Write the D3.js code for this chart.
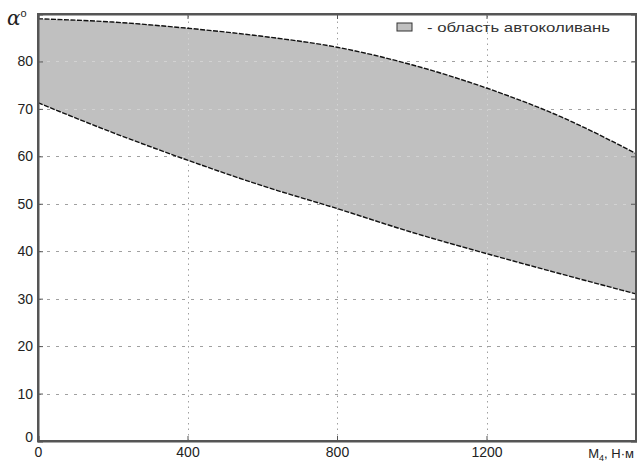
<!DOCTYPE html>
<html>
<head>
<meta charset="utf-8">
<script src="https://cdn.jsdelivr.net/npm/d3@7"></script>
<style>
  body { margin: 0; background: #fff; }
  text { font-family: "Liberation Sans", Arial, sans-serif; }
</style>
</head>
<body>
<script>
var width = 637,
    height = 462;

// torque M4 (N*m) and the two bounds of the self-oscillation zone (deg)
var torque = [0, 200, 400, 600, 800, 1000, 1200, 1400, 1600];
var upperAlpha = [89.0, 88.3, 87.0, 85.3, 83.0, 79.3, 74.4, 68.3, 60.6];
var lowerAlpha = [71.3, 65.0, 59.2, 53.8, 49.0, 44.0, 39.5, 35.2, 31.0];

var xTicks = [0, 400, 800, 1200];
var yTicks = [0, 10, 20, 30, 40, 50, 60, 70, 80];
var legendText = "- область автоколивань";

var margin = {left: 38, right: 1, top: 14, bottom: 21};

var svg = d3.select("body").append("svg")
    .attr("width", width)
    .attr("height", height);

var x = d3.scaleLinear().domain([0, 1600]).range([margin.left, width - margin.right]);
var y = d3.scaleLinear().domain([0, 90]).range([height - margin.bottom, margin.top]);

var pts = torque.map(function(t, i) {
  return {t: t, lo: lowerAlpha[i], hi: upperAlpha[i]};
});

var area = d3.area()
    .x(function(d) { return x(d.t); })
    .y0(function(d) { return y(d.lo); })
    .y1(function(d) { return y(d.hi); })
    .curve(d3.curveMonotoneX);

svg.append("clipPath").attr("id", "zone")
  .append("path").datum(pts).attr("d", area);

function drawGrid(g, color) {
  g.attr("stroke", color).attr("stroke-width", 1);
  g.selectAll("line.h")
      .data(yTicks.slice(1))
    .enter().append("line")
      .attr("stroke-dasharray", "3,6")
      .attr("x1", x(0)).attr("x2", x(1600))
      .attr("y1", function(d) { return Math.round(y(d)) + 0.5; })
      .attr("y2", function(d) { return Math.round(y(d)) + 0.5; });
  g.selectAll("line.v")
      .data(xTicks.slice(1))
    .enter().append("line")
      .attr("stroke-dasharray", "1.5,4")
      .attr("y1", y(0)).attr("y2", y(90))
      .attr("x1", function(d) { return Math.round(x(d)) + 0.5; })
      .attr("x2", function(d) { return Math.round(x(d)) + 0.5; });
}

// grid on white, zone, lighter grid inside the zone
drawGrid(svg.append("g"), "#a0a0a0");

svg.append("path")
    .datum(pts)
    .attr("d", area)
    .attr("fill", "#c0c0c0");

drawGrid(svg.append("g").attr("clip-path", "url(#zone)"), "#d2d2d2");

// bounds
["lo", "hi"].forEach(function(k) {
  var line = d3.line()
      .x(function(d) { return x(d.t); })
      .y(function(d) { return y(d[k]); })
      .curve(d3.curveMonotoneX);
  svg.append("path")
      .datum(pts)
      .attr("d", line)
      .attr("fill", "none")
      .attr("stroke", "#111")
      .attr("stroke-width", 1.4)
      .attr("stroke-dasharray", "5,1.5");
});

// axes (ticks pointing inward)
var xAxis = svg.append("g")
    .attr("transform", "translate(0," + y(0) + ")")
    .call(d3.axisBottom(x).tickValues(xTicks).tickFormat(d3.format("d")).tickSize(-5).tickPadding(6));
var yAxis = svg.append("g")
    .attr("transform", "translate(" + x(0) + ",0)")
    .call(d3.axisLeft(y).tickValues(yTicks).tickSize(-5).tickPadding(5));
svg.append("g")
    .attr("transform", "translate(0," + y(90) + ")")
    .call(d3.axisTop(x).tickValues(xTicks).tickSize(-5).tickFormat(""));
svg.append("g")
    .attr("transform", "translate(" + x(1600) + ",0)")
    .call(d3.axisRight(y).tickValues(yTicks).tickSize(-5).tickFormat(""));

svg.selectAll(".domain").attr("stroke", "#555").attr("stroke-width", 2);
svg.selectAll(".tick line").attr("stroke", "#555");
svg.selectAll(".tick text").attr("fill", "#222").style("font-size", "14px");
yAxis.select(".tick text").attr("dy", "0.05em");

// frame
svg.append("rect")
    .attr("x", x(0)).attr("y", y(90))
    .attr("width", x(1600) - x(0)).attr("height", y(0) - y(90))
    .attr("fill", "none").attr("stroke", "#555").attr("stroke-width", 2);

// axis labels
var yl = svg.append("text")
    .attr("x", 7).attr("y", 25)
    .attr("fill", "#222")
    .style("font-size", "20px");
yl.append("tspan").style("font-style", "italic").style("font-family", "DejaVu Serif, serif").text("α");
yl.append("tspan").attr("dy", -8).style("font-size", "11px").text("o");

var xl = svg.append("text")
    .attr("x", 634).attr("y", 458)
    .attr("text-anchor", "end")
    .attr("fill", "#222")
    .style("font-size", "13px");
xl.append("tspan").text("M");
xl.append("tspan").attr("dy", 3).style("font-size", "9px").text("4");
xl.append("tspan").attr("dy", -3).text(", Н·м");

// legend
var lg = svg.append("g").attr("transform", "translate(397,23)");
lg.append("rect")
    .attr("width", 15).attr("height", 8)
    .attr("fill", "#c0c0c0").attr("stroke", "#333").attr("stroke-width", 1);
lg.append("text")
    .attr("x", 30).attr("y", 9)
    .attr("fill", "#333")
    .attr("textLength", 183)
    .attr("lengthAdjust", "spacingAndGlyphs")
    .style("font-size", "13px")
    .text(legendText);
</script>
</body>
</html>
